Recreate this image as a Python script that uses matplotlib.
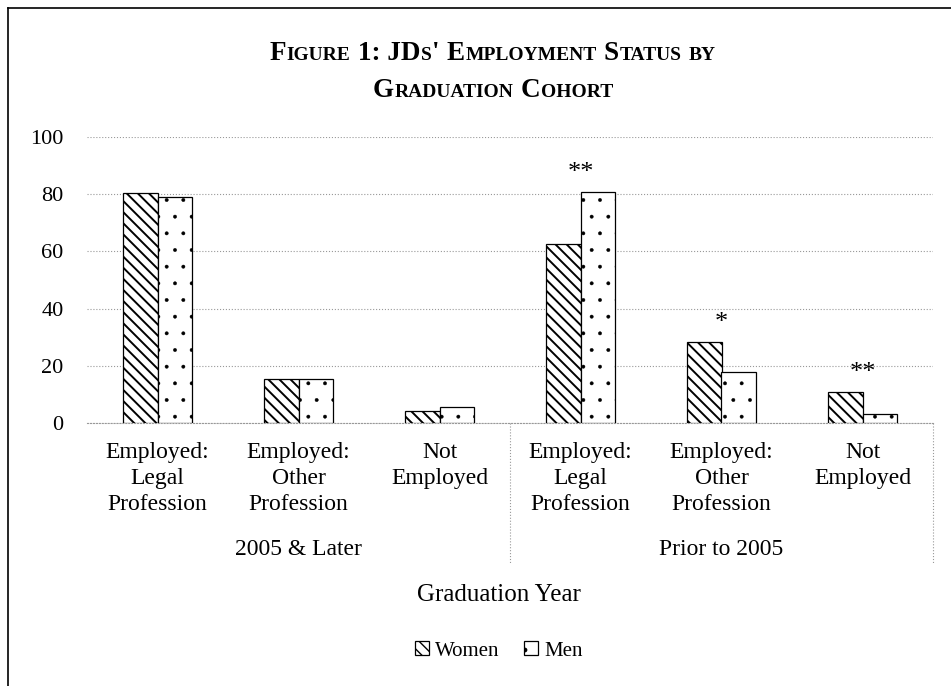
#!/usr/bin/env python
#
# JDs' employment status by graduation cohort, grouped bars with hatching
#
import numpy as n
import matplotlib
matplotlib.use("Agg")
import matplotlib.pyplot as plt
from matplotlib.lines import Line2D

# values (percent)
categories = ["Employed:\nLegal\nProfession", "Employed:\nOther\nProfession", "Not\nEmployed",
              "Employed:\nLegal\nProfession", "Employed:\nOther\nProfession", "Not\nEmployed"]
cohorts = ["2005 & Later", "Prior to 2005"]
women = [80.3, 15.3, 4.2, 62.6, 28.3, 10.8]
men = [79.1, 15.4, 5.5, 80.9, 17.7, 3.0]
stars = ["", "", "", "**", "*", "**"]   # significance marks

plt.rcParams["font.family"] = ["Liberation Serif", "DejaVu Serif"]
plt.rcParams["hatch.color"] = "black"

W, H = 951, 686
fig = plt.figure(figsize=(W/100.0, H/100.0), dpi=100)
ax = fig.add_axes([87.0/W, 1-423.0/H, (933.0-87)/W, (423.0-137)/H])

x = n.arange(len(categories))
bw = 0.248
# thick diagonal lines for women, small dots for men
with plt.rc_context({"hatch.linewidth": 1.4}):
    wb = ax.bar(x-bw/2, women, bw, color="white", edgecolor="black", linewidth=0.9,
                hatch="\\\\\\", label="Women", zorder=3)
with plt.rc_context({"hatch.linewidth": 0.3}):
    mb = ax.bar(x+bw/2, men, bw, color="white", edgecolor="black", linewidth=0.9,
                hatch=".", label="Men", zorder=3)
for p in wb:
    if hasattr(p, "set_hatch_linewidth"):
        p.set_hatch_linewidth(1.4)
for p in mb:
    if hasattr(p, "set_hatch_linewidth"):
        p.set_hatch_linewidth(0.3)

# significance stars above the taller bar
for i in range(len(categories)):
    if stars[i]:
        ax.text(x[i], max(women[i], men[i])+4.5, stars[i], ha="center", va="baseline",
                fontsize=19)

ax.set_xlim(-0.5, len(categories)-0.5)
ax.set_ylim(0, 100)
ax.set_yticks(n.arange(0, 101, 20))
ax.yaxis.grid(True, linestyle=":", color="#999999", linewidth=0.8)
ax.set_axisbelow(True)
for s in ["top", "right", "left"]:
    ax.spines[s].set_visible(False)
ax.spines["bottom"].set_linestyle(":")
ax.spines["bottom"].set_color("#999999")
ax.tick_params(axis="y", length=0, pad=17, labelsize=16)
ax.set_xticks(x)
ax.set_xticklabels(categories, fontsize=17, linespacing=1.3)
ax.tick_params(axis="x", length=0, pad=14)

# cohort labels and dividers under the category labels
trans = ax.get_xaxis_transform()
for k, c in enumerate(cohorts):
    ax.text(3*k+1, -0.444, c, transform=trans, ha="center", va="center", fontsize=17)
for xs in [2.5, 5.5]:
    ax.plot([xs, xs], [0, -0.49], transform=trans, linestyle=":", color="#999999",
            linewidth=0.8, clip_on=False)

fig.text(499.0/W, 1-595.0/H, "Graduation Year", ha="center", va="center", fontsize=18)
fig.legend(loc="center", bbox_to_anchor=(499.0/W, 1-651.0/H), ncol=2, frameon=False,
           fontsize=15, handlelength=0.65, handleheight=0.65, handletextpad=0.3,
           columnspacing=1.2)

def smallcaps_line(y, chunks, xc, big=19.5, small=14.0):
    # chunks: (text, big?) pieces, " " is a word gap
    r = fig.canvas.get_renderer()
    parts = []
    total = 0.0
    for s, isbig in chunks:
        if s == " ":
            w = 0.25*big*fig.dpi/72.0
            parts.append((None, w))
        else:
            t = fig.text(0, y, s, fontsize=big if isbig else small, fontweight="bold",
                         ha="left", va="baseline")
            w = t.get_window_extent(r).width + 0.5
            parts.append((t, w))
        total += w
    px = xc*W - total/2
    for t, w in parts:
        if t is not None:
            t.set_x(px/W)
        px += w

smallcaps_line(1-60.0/H, [("F", 1), ("IGURE", 0), (" ", 0), ("1: JD", 1), ("S", 0), ("'", 1),
                          (" ", 0), ("E", 1), ("MPLOYMENT", 0), (" ", 0), ("S", 1), ("TATUS", 0),
                          (" ", 0), ("BY", 0)], 493.0/W)
smallcaps_line(1-97.0/H, [("G", 1), ("RADUATION", 0), (" ", 0), ("C", 1), ("OHORT", 0)], 493.0/W)

# frame lines (top and left, the rest is cropped)
fig.add_artist(Line2D([8.0/W, 1.0], [1-8.0/H, 1-8.0/H], transform=fig.transFigure,
                      color="black", linewidth=1.2))
fig.add_artist(Line2D([8.0/W, 8.0/W], [0, 1-8.0/H], transform=fig.transFigure,
                      color="black", linewidth=1.2))

fig.savefig("out.png", dpi=100)
